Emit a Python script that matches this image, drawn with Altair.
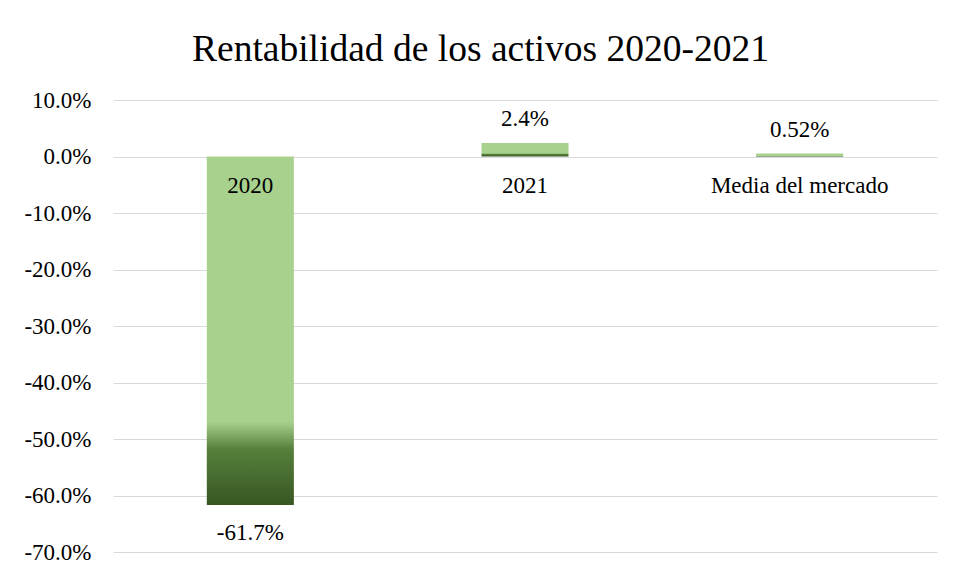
import altair as alt
import pandas as pd

categories = ["2020", "2021", "Media del mercado"]
values = [-0.617, 0.024, 0.0052]
value_labels = ["-61.7%", "2.4%", "0.52%"]
tick_values = [0.1, 0, -0.1, -0.2, -0.3, -0.4, -0.5, -0.6, -0.7]

df = pd.DataFrame({"cat": categories, "val": values, "lbl": value_labels})

FONT = "Liberation Serif, Times New Roman, serif"
FS = 23

grad = alt.Gradient(
    gradient="linear",
    x1=0, y1=0, x2=0, y2=1,
    stops=[
        alt.GradientStop(color="#A9D18E", offset=0),
        alt.GradientStop(color="#A9D18E", offset=0.76),
        alt.GradientStop(color="#7FA964", offset=0.80),
        alt.GradientStop(color="#557F3B", offset=0.84),
        alt.GradientStop(color="#385723", offset=1),
    ],
)

x = alt.X("cat:N", sort=categories, axis=None,
          scale=alt.Scale(paddingInner=0.683, paddingOuter=0.3415))

bars = alt.Chart(df).mark_bar(color=grad).encode(
    x=x,
    y=alt.Y("val:Q", title=None,
            scale=alt.Scale(domain=[-0.7, 0.1], nice=False),
            axis=alt.Axis(values=tick_values,
                          labelExpr="replace(format(datum.value, '.1%'), '\u2212', '-')",
                          domain=False, ticks=False, labelPadding=22,
                          gridColor="#D9D9D9", gridWidth=1,
                          labelFont=FONT, labelFontSize=FS, labelColor="#000000")),
)

pos_lbl = alt.Chart(df).transform_filter("datum.val >= 0").mark_text(
    font=FONT, fontSize=FS, color="#000000", baseline="alphabetic", dy=-17
).encode(x=x, y="val:Q", text="lbl:N")

neg_lbl = alt.Chart(df).transform_filter("datum.val < 0").mark_text(
    font=FONT, fontSize=FS, color="#000000", baseline="alphabetic", dy=35
).encode(x=x, y="val:Q", text="lbl:N")

cat_lbl = alt.Chart(df).mark_text(
    font=FONT, fontSize=FS, color="#000000", baseline="alphabetic", dy=36
).encode(x=x, y=alt.datum(0), text="cat:N")

chart = alt.layer(bars, pos_lbl, neg_lbl, cat_lbl).properties(
    width=824, height=452,
    title=alt.TitleParams("Rentabilidad de los activos 2020-2021", font=FONT,
                          fontSize=37.5, fontWeight="normal", color="#000000",
                          anchor="middle", frame="bounds", offset=21),
    autosize=alt.AutoSizeParams(type="none"),
    padding={"left": 105, "top": 92, "right": 10, "bottom": 16},
).configure_view(stroke=None)

chart.save("out.html", embed_options={"renderer": "svg", "actions": False})
